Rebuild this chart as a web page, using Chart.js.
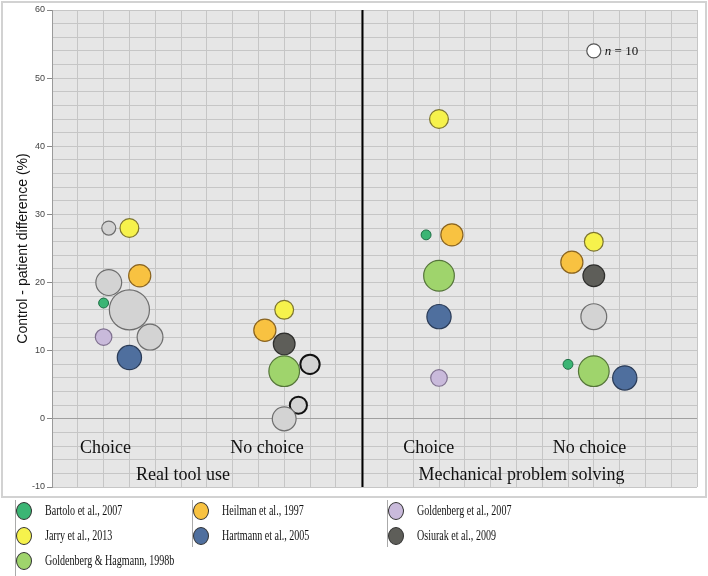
<!DOCTYPE html>
<html>
<head>
<meta charset="utf-8">
<script src="https://cdn.jsdelivr.net/npm/chart.js@4.4.1/dist/chart.umd.min.js"></script>
<style>
  body { margin: 0; background: #fff; }
  #wrap { position: relative; width: 708px; height: 576px; }
  #frame { position: absolute; left: 1px; top: 1px; width: 702px; height: 493px; border: 2px solid #d2d2d2; pointer-events: none; }
  #legend { position: absolute; left: 0; top: 0; width: 708px; height: 576px; pointer-events: none;
            font-family: "Liberation Serif", "Times New Roman", serif; font-size: 15px; color: #111; }
  .sep { position: absolute; width: 1px; background: #aaa; }
  .dot { position: absolute; width: 16px; height: 18px; border-radius: 50%; border: 1.5px solid #333; box-sizing: border-box; }
  .lbl { position: absolute; white-space: nowrap; transform: scaleX(0.67); transform-origin: left center; line-height: 18px; }
</style>
</head>
<body>
<div id="wrap">
  <canvas id="chart" width="708" height="576"></canvas>
  <div id="frame"></div>
  <div id="legend"></div>
</div>
<script>
// Conditions and group labels
const conditions = ["Real tool use", "Mechanical problem solving"]
const groups = ["Choice", "No choice", "Choice", "No choice"]

// Studies (legend order, column by column)
const studies = ["Bartolo et al., 2007", "Jarry et al., 2013", "Goldenberg & Hagmann, 1998b",
  "Heilman et al., 1997", "Hartmann et al., 2005", "Goldenberg et al., 2007", "Osiurak et al., 2009"]

// position along the condition axis, difference (%), sample size
const bartoloX = [2, 14.5, 20]
const bartoloY = [17, 27, 8]
const bartoloN = [5, 5, 5]

const jarryX = [3, 9, 15, 21]
const jarryY = [28, 16, 44, 26]
const jarryN = [18, 18, 18, 18]

const goldHagX = [9, 15, 21]
const goldHagY = [7, 21, 7]
const goldHagN = [48, 48, 48]

const heilmanX = [3.4, 8.25, 15.5, 20.15]
const heilmanY = [21, 13, 27, 23]
const heilmanN = [25, 25, 25, 25]

const hartmannX = [3, 15, 22.2]
const hartmannY = [9, 15, 6]
const hartmannN = [30, 30, 30]

const gold2007X = [2, 15]
const gold2007Y = [12, 6]
const gold2007N = [14, 14]

const osiurakX = [9, 21]
const osiurakY = [11, 21]
const osiurakN = [24, 24]

// unlabelled studies (grey)
const otherX = [2.2, 2.2, 3, 3.8, 9, 21]
const otherY = [28, 20, 16, 12, 0, 15]
const otherN = [10, 34, 82, 34, 29, 34]

const otherBoldX = [10, 9.55]
const otherBoldY = [8, 2]
const otherBoldN = [19, 15]

// size reference bubble
const refX = [21]
const refY = [54]
const refN = [10]

const yTicks = [-10, 0, 10, 20, 30, 40, 50, 60]

function bubbleRadius(n) {
  return 7 * Math.sqrt(n / 10)
}

function points(xs, ys, ns) {
  return xs.map((x, i) => ({ x: x, y: ys[i], r: bubbleRadius(ns[i]) }))
}

const colors = {
  bartolo: ["#3bb574", "#1f6e45"],
  jarry: ["#f6f24c", "#7d7530"],
  goldHag: ["#9fd46c", "#55753a"],
  heilman: ["#f8c241", "#8a6420"],
  hartmann: ["#4f6f9e", "#2a3b57"],
  gold2007: ["#c9badb", "#7f708f"],
  osiurak: ["#5e5e59", "#2e2e2c"],
  other: ["#d3d3d3", "#6e6e6e"],
}

const datasets = [
  { label: "other", data: points(otherX, otherY, otherN), backgroundColor: colors.other[0], borderColor: colors.other[1], borderWidth: 1.2 },
  { label: "other2", data: points(otherBoldX, otherBoldY, otherBoldN), backgroundColor: colors.other[0], borderColor: "#111", borderWidth: 2 },
  { label: studies[0], data: points(bartoloX, bartoloY, bartoloN), backgroundColor: colors.bartolo[0], borderColor: colors.bartolo[1], borderWidth: 1 },
  { label: studies[1], data: points(jarryX, jarryY, jarryN), backgroundColor: colors.jarry[0], borderColor: colors.jarry[1], borderWidth: 1.2 },
  { label: studies[2], data: points(goldHagX, goldHagY, goldHagN), backgroundColor: colors.goldHag[0], borderColor: colors.goldHag[1], borderWidth: 1.2 },
  { label: studies[3], data: points(heilmanX, heilmanY, heilmanN), backgroundColor: colors.heilman[0], borderColor: colors.heilman[1], borderWidth: 1.2 },
  { label: studies[4], data: points(hartmannX, hartmannY, hartmannN), backgroundColor: colors.hartmann[0], borderColor: colors.hartmann[1], borderWidth: 1.2 },
  { label: studies[5], data: points(gold2007X, gold2007Y, gold2007N), backgroundColor: colors.gold2007[0], borderColor: colors.gold2007[1], borderWidth: 1.2 },
  { label: studies[6], data: points(osiurakX, osiurakY, osiurakN), backgroundColor: colors.osiurak[0], borderColor: colors.osiurak[1], borderWidth: 1.2 },
  { label: "n = 10", data: points(refX, refY, refN), backgroundColor: "#ffffff", borderColor: "#555", borderWidth: 1.2 },
]

const legendColors = [colors.bartolo, colors.jarry, colors.goldHag, colors.heilman, colors.hartmann, colors.gold2007, colors.osiurak]

// plot background, divider line and the in-plot texts
const decorPlugin = {
  id: "decor",
  beforeDraw(chart) {
    const { ctx, chartArea: a } = chart
    ctx.save()
    ctx.fillStyle = "#e6e6e6"
    ctx.fillRect(a.left, a.top, a.right - a.left, a.bottom - a.top)
    ctx.restore()
  },
  beforeDatasetsDraw(chart) {
    const { ctx, chartArea: a, scales } = chart
    const x = Math.round(scales.x.getPixelForValue(12)) + 0.5
    ctx.save()
    ctx.strokeStyle = "#000"
    ctx.lineWidth = 2
    ctx.beginPath()
    ctx.moveTo(x, a.top)
    ctx.lineTo(x, a.bottom)
    ctx.stroke()
    ctx.restore()
  },
  afterDraw(chart) {
    const { ctx, scales } = chart
    const px = v => scales.x.getPixelForValue(v)
    const py = v => scales.y.getPixelForValue(v)
    ctx.save()
    ctx.fillStyle = "#111"
    ctx.textAlign = "center"
    ctx.textBaseline = "alphabetic"
    ctx.font = '18px "Liberation Serif", serif'
    const groupPos = [2.07, 8.33, 14.6, 20.83]
    groups.forEach((g, i) => ctx.fillText(g, px(groupPos[i]), py(-5)))
    const condPos = [5.08, 18.2]
    conditions.forEach((c, i) => ctx.fillText(c, px(condPos[i]), py(-9)))

    // size reference label
    const x0 = px(refX[0]) + 11
    const y0 = py(refY[0]) + 4
    ctx.textAlign = "left"
    ctx.font = 'italic 13px "Liberation Serif", serif'
    ctx.fillText("n", x0, y0)
    const w = ctx.measureText("n").width
    ctx.font = '13px "Liberation Serif", serif'
    ctx.fillText(" = 10", x0 + w, y0)
    ctx.restore()
  },
}

new Chart(document.getElementById("chart"), {
  type: "bubble",
  data: { datasets: datasets },
  options: {
    responsive: false,
    animation: false,
    layout: { autoPadding: false, padding: { left: 0, top: 10, right: 11, bottom: 89 } },
    plugins: {
      legend: { display: false },
      tooltip: { enabled: false },
    },
    scales: {
      x: {
        type: "linear",
        min: 0,
        max: 25,
        ticks: { stepSize: 1, display: false },
        grid: { color: "#c6c6c6", drawTicks: false },
        border: { display: false },
        afterFit: (s) => { s.height = 0 },
      },
      y: {
        min: -10,
        max: 60,
        ticks: {
          stepSize: 2,
          autoSkip: false,
          padding: 2,
          color: "#444",
          font: { family: "Arial, 'Liberation Sans'", size: 9 },
          callback: (v) => (yTicks.includes(v) ? v : ""),
        },
        grid: {
          color: (c) => (c.tick && c.tick.value === 0 ? "#a0a0a0" : "#c6c6c6"),
          tickColor: (c) => (c.tick && yTicks.includes(c.tick.value) ? "#888" : "rgba(0,0,0,0)"),
          tickLength: 5,
        },
        border: { color: "#9a9a9a" },
        title: {
          display: true,
          text: "Control - patient difference (%)",
          color: "#111",
          font: { family: "Arial, 'Liberation Sans'", size: 14 },
          padding: { top: 15, bottom: 0 },
        },
        afterFit: (s) => { s.width = 52 },
      },
    },
  },
  plugins: [decorPlugin],
})

// legend below the chart, three columns
const legendEl = document.getElementById("legend")
const columnSizes = [3, 2, 2]
const columnX = [15, 192, 387]
const rowY = [511, 536, 561]
let k = 0
columnSizes.forEach((size, c) => {
  const sep = document.createElement("div")
  sep.className = "sep"
  sep.style.left = columnX[c] + "px"
  sep.style.top = "500px"
  sep.style.height = (c === 0 ? 76 : 47) + "px"
  legendEl.appendChild(sep)
  for (let r = 0; r < size; r++) {
    const dot = document.createElement("div")
    dot.className = "dot"
    dot.style.left = columnX[c] + 1 + "px"
    dot.style.top = rowY[r] - 9 + "px"
    dot.style.background = legendColors[k][0]
    dot.style.borderColor = "#333"
    legendEl.appendChild(dot)
    const lbl = document.createElement("div")
    lbl.className = "lbl"
    lbl.textContent = studies[k]
    lbl.style.left = columnX[c] + 30 + "px"
    lbl.style.top = rowY[r] - 10 + "px"
    legendEl.appendChild(lbl)
    k++
  }
})
</script>
</body>
</html>
